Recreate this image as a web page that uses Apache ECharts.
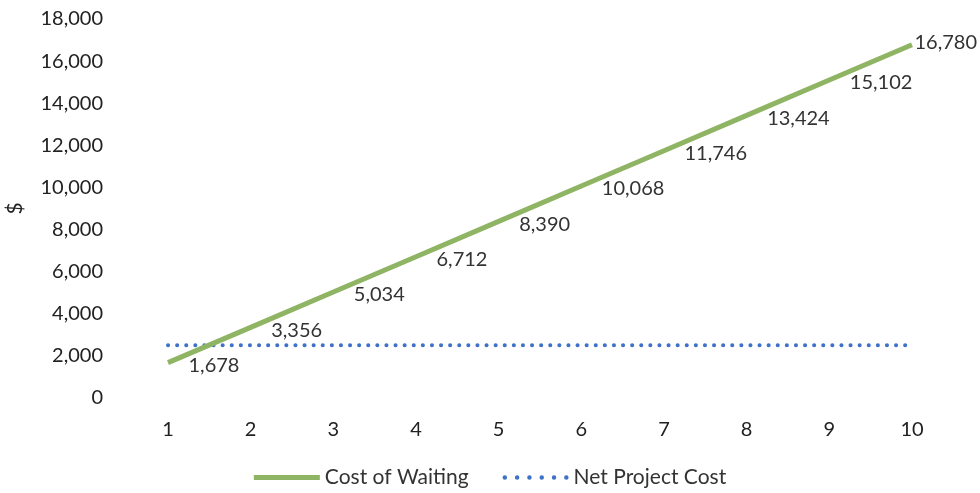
<!DOCTYPE html>
<html><head><meta charset="utf-8">
<script src="https://cdn.jsdelivr.net/npm/echarts@6/dist/echarts.min.js"></script>
<style>html,body{margin:0;padding:0;background:#fff}#c{width:980px;height:493px}</style>
</head><body><div id="c"></div>
<script>
const categories = ['1','2','3','4','5','6','7','8','9','10'];
const costOfWaiting = [1678, 3356, 5034, 6712, 8390, 10068, 11746, 13424, 15102, 16780];
const netProjectCost = [2500, 2500, 2500, 2500, 2500, 2500, 2500, 2500, 2500, 2500];
const seriesNames = ['Cost of Waiting', 'Net Project Cost'];

const FONT = 'Lato';
const GREEN = '#8fb564', BLUE = '#3e72c8';
const chart = echarts.init(document.getElementById('c'));
const fmt = v => v.toLocaleString('en-US');
const cowData = costOfWaiting.map((v, i) => i === costOfWaiting.length - 1
  ? { value: v, label: { distance: 2, offset: [0, -2] } } : v);
let dots = '';
for (let k = 0; k < 6; k++) {
  const cx = 2 + k * 11;
  dots += `M${cx - 2},2 A2,2 0 1 1 ${cx + 2},2 A2,2 0 1 1 ${cx - 2},2 Z `;
}
chart.setOption({
  animation: false,
  textStyle: { fontFamily: FONT },
  grid: { left: 168, right: 68, top: 19, bottom: 95, outerBoundsMode: 'none', containLabel: false },
  legend: {
    bottom: 0, left: 'center', itemGap: 34,
    textStyle: { fontFamily: FONT, fontSize: 21, color: '#333' },
    data: [
      { name: seriesNames[0], icon: 'path://M0,0L68,0L68,5L0,5Z', itemStyle: { color: GREEN, opacity: 1 } },
      { name: seriesNames[1], icon: 'path://' + dots, itemStyle: { color: BLUE, opacity: 1 } }
    ],
    itemWidth: 66, itemHeight: 5
  },
  xAxis: {
    type: 'category', data: categories, boundaryGap: false,
    axisLine: { show: false }, axisTick: { show: false },
    axisLabel: { fontFamily: FONT, fontSize: 20, color: '#222', margin: 22 },
    splitLine: { show: false }
  },
  yAxis: {
    type: 'value', min: 0, max: 18000, interval: 2000,
    name: '$', nameLocation: 'middle', nameGap: 142, nameRotate: 90,
    nameTextStyle: { fontFamily: FONT, fontSize: 21, color: '#222' },
    axisLine: { show: false }, axisTick: { show: false },
    axisLabel: { fontFamily: FONT, fontSize: 20, color: '#222', margin: 65, formatter: v => fmt(v) },
    splitLine: { show: false }
  },
  series: [
    {
      name: seriesNames[0], type: 'line', data: cowData,
      symbol: 'circle', symbolSize: 1, showSymbol: true,
      lineStyle: { color: GREEN, width: 5 },
      itemStyle: { color: 'rgba(0,0,0,0)', borderWidth: 0 },
      label: {
        show: true, position: 'right', distance: 20, offset: [0, 3],
        fontFamily: FONT, fontSize: 20, color: '#333',
        formatter: p => fmt(p.value)
      },
      z: 3
    },
    {
      name: seriesNames[1], type: 'line', data: netProjectCost, symbol: 'none',
      lineStyle: { color: BLUE, width: 4, type: [0.1, 9], cap: 'round' },
      itemStyle: { color: BLUE },
      z: 2
    }
  ]
});
</script></body></html>
